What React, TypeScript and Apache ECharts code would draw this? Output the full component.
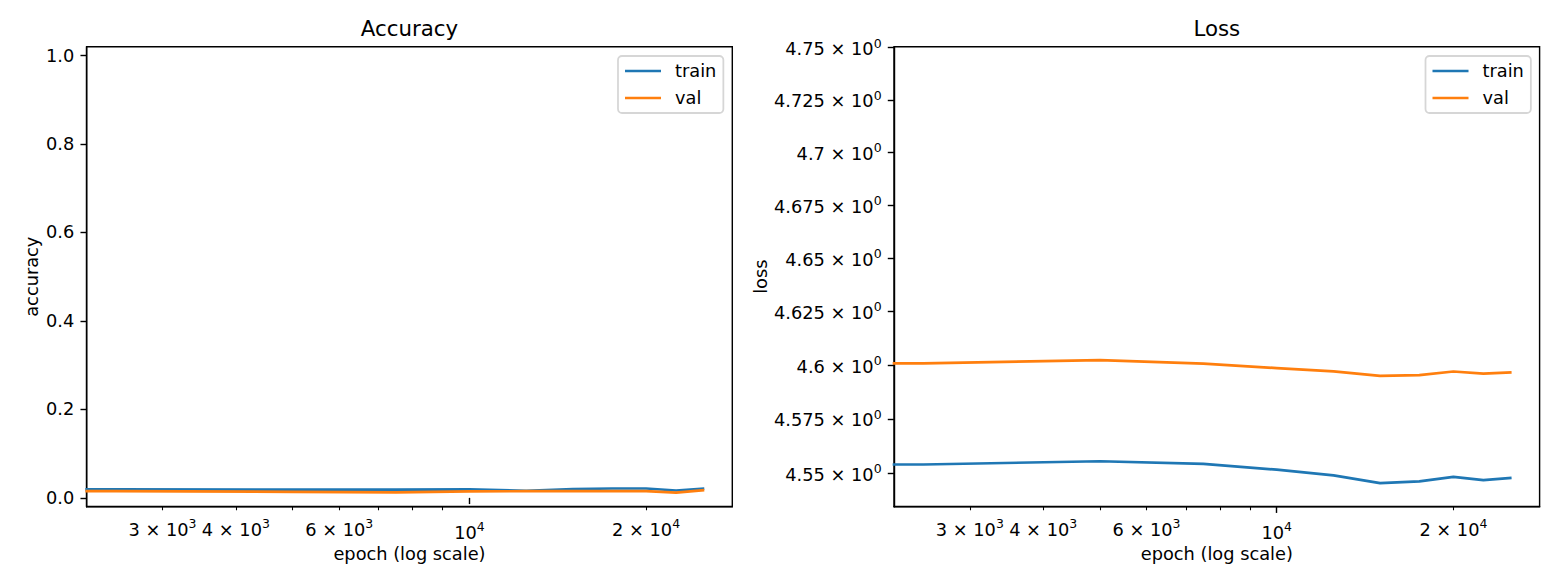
import React, { useRef, useEffect } from 'react'
import * as echarts from 'echarts'

// epochs with a logged value (the epoch-0 point is clipped away by the log axis)
const EPOCHS = [2500, 5000, 7500, 10000, 12500, 15000, 17500, 20000, 22500, 25000]
const TRAIN_ACC = [0.019, 0.0187, 0.0185, 0.019, 0.016, 0.0198, 0.0212, 0.0212, 0.0167, 0.0205]
const VAL_ACC = [0.0152, 0.0137, 0.0124, 0.0145, 0.0152, 0.0152, 0.0153, 0.0153, 0.0117, 0.0172]
const TRAIN_LOSS = [4.554, 4.5555, 4.5543, 4.5516, 4.549, 4.5454, 4.5462, 4.5483, 4.5468, 4.5478]
const VAL_LOSS = [4.6008, 4.6023, 4.6007, 4.5986, 4.5971, 4.595, 4.5953, 4.597, 4.596, 4.5966]

const SERIES_NAMES = ['train', 'val']
const COLORS = ['#1f77b4', '#ff7f0e']

const X_MINOR_TICKS = [3000, 4000, 5000, 6000, 7000, 8000, 9000, 20000]
const X_MAJOR_TICKS = [10000]
const X_MINOR_LABELS = [3000, 4000, 6000, 20000]
const ACC_TICKS = [0, 0.2, 0.4, 0.6, 0.8, 1.0]
const LOSS_TICKS = [4.55, 4.575, 4.6, 4.625, 4.65, 4.675, 4.7, 4.725, 4.75]
const ACC_RANGE = [-0.02, 1.02]
const LOSS_RANGE = [4.5346, 4.7505]

const FONT = 'DejaVu Sans'
const PT = 128 / 72 // px per point
const FS = 10 * PT
const SUP = 7 * PT

// x limits: matplotlib's 5% margin around the data, in log space
const LOG_LO = Math.log10(Math.min(...EPOCHS))
const LOG_HI = Math.log10(Math.max(...EPOCHS))
const X_MIN = LOG_LO - (LOG_HI - LOG_LO) * 0.05
const X_MAX = LOG_HI + (LOG_HI - LOG_LO) * 0.05

const fmtNum = (v: number) => parseFloat(v.toFixed(3)).toString()

// "m × 10^e" the way matplotlib's log formatter writes it
const sciLabel = (v: number) => {
  const exp = Math.floor(Math.log10(v) + 1e-9)
  const m = v / Math.pow(10, exp)
  if (Math.abs(m - 1) < 1e-6) return `{n|10}{s|${exp}}`
  return `{n|${fmtNum(m)} × 10}{s|${exp}}`
}

const rich = {
  n: { fontSize: FS, fontFamily: FONT, color: '#000', verticalAlign: 'bottom' },
  s: { fontSize: SUP, fontFamily: FONT, color: '#000', verticalAlign: 'bottom', padding: [0, 0, 9, 0] }
}

// the clipped epoch-0 segment shows up as a flat run to the left edge
const points = (vals: number[], f: (v: number) => number = v => v) => [
  [X_MIN, f(vals[0])],
  ...EPOCHS.map((e, i) => [Math.log10(e), f(vals[i])])
]

const textStyle = { fontSize: FS, fontFamily: FONT, color: '#000' }
const axisLine = { show: true, onZero: false, lineStyle: { color: '#000', width: 0.8 * PT } }

const xAxes = (grid: number) => [
  {
    type: 'value',
    gridIndex: grid,
    min: X_MIN,
    max: X_MAX,
    position: 'bottom',
    name: 'epoch (log scale)',
    nameLocation: 'middle',
    nameGap: 38.5,
    nameTextStyle: textStyle,
    axisLine,
    axisTick: {
      show: true,
      customValues: X_MINOR_TICKS.map(Math.log10),
      length: 2 * PT,
      lineStyle: { color: '#000', width: 0.6 * PT }
    },
    axisLabel: {
      customValues: X_MINOR_LABELS.map(Math.log10),
      margin: 2 * PT + 3.4 * PT + 1.5,
      formatter: (v: number) => sciLabel(Math.round(Math.pow(10, v))),
      rich
    },
    splitLine: { show: false }
  },
  {
    type: 'value',
    gridIndex: grid,
    min: X_MIN,
    max: X_MAX,
    position: 'bottom',
    axisLine: { show: false },
    axisTick: {
      show: true,
      customValues: X_MAJOR_TICKS.map(Math.log10),
      length: 3.5 * PT,
      lineStyle: { color: '#000', width: 0.8 * PT }
    },
    axisLabel: {
      customValues: X_MAJOR_TICKS.map(Math.log10),
      margin: 7 * PT + 1.5,
      formatter: (v: number) => sciLabel(Math.round(Math.pow(10, v))),
      rich
    },
    splitLine: { show: false }
  }
]

const legend = (left: number) => ({
  left,
  top: 56,
  orient: 'vertical',
  padding: [6, 7, 6, 7],
  itemGap: 9,
  itemWidth: 36,
  itemHeight: 1.5 * PT,
  icon: 'rect',
  selectedMode: false,
  backgroundColor: 'rgba(255,255,255,0.8)',
  borderColor: 'rgba(204,204,204,0.8)',
  borderWidth: PT,
  borderRadius: 4,
  textStyle: { ...textStyle, lineHeight: 18, padding: [0, 0, 0, 9] },
  data: SERIES_NAMES
})

const title = (text: string, left: number) => ({
  text,
  left,
  top: 18,
  padding: 0,
  textAlign: 'center',
  textStyle: { fontSize: 12 * PT, fontFamily: FONT, color: '#000', fontWeight: 'normal' }
})

const lineSeries = (name: string, idx: number, grid: number, data: number[][]) => ({
  name,
  type: 'line',
  xAxisIndex: grid * 2,
  yAxisIndex: grid,
  data,
  symbol: 'none',
  clip: true,
  lineStyle: { color: COLORS[idx], width: 1.5 * PT, join: 'round', cap: 'square' },
  itemStyle: { color: COLORS[idx] }
})

const App: React.FC = () => {
  const chartRef = useRef<HTMLDivElement>(null)

  useEffect(() => {
    if (!chartRef.current) return
    const chart = echarts.init(chartRef.current, null, { renderer: 'svg' })

    const gridW = 645.6
    const grids = [
      { left: 86.7, top: 46.7, width: gridW, height: 460 },
      { left: 894, top: 46.7, width: gridW, height: 460 }
    ].map(g => ({ ...g, show: true, borderColor: '#000', borderWidth: 0.8 * PT, backgroundColor: 'transparent' }))

    const option = {
      animation: false,
      backgroundColor: '#fff',
      title: [title('Accuracy', 86.7 + gridW / 2), title('Loss', 894 + gridW / 2)],
      legend: [legend(618), legend(1425.5)],
      grid: grids,
      xAxis: [...xAxes(0), ...xAxes(1)],
      yAxis: [
        {
          type: 'value',
          gridIndex: 0,
          min: ACC_RANGE[0],
          max: ACC_RANGE[1],
          name: 'accuracy',
          nameLocation: 'middle',
          nameGap: 46,
          nameTextStyle: textStyle,
          axisLine,
          axisTick: { show: true, customValues: ACC_TICKS, length: 3.5 * PT, lineStyle: { color: '#000', width: 0.8 * PT } },
          axisLabel: { customValues: ACC_TICKS, margin: 7 * PT, formatter: (v: number) => v.toFixed(1), ...textStyle },
          splitLine: { show: false }
        },
        {
          type: 'value',
          gridIndex: 1,
          min: Math.log10(LOSS_RANGE[0]),
          max: Math.log10(LOSS_RANGE[1]),
          name: 'loss',
          nameLocation: 'middle',
          nameGap: 123,
          nameTextStyle: textStyle,
          axisLine,
          axisTick: {
            show: true,
            customValues: LOSS_TICKS.map(Math.log10),
            length: 3.5 * PT,
            lineStyle: { color: '#000', width: 0.8 * PT }
          },
          axisLabel: {
            customValues: LOSS_TICKS.map(Math.log10),
            margin: 7 * PT,
            formatter: (v: number) => sciLabel(parseFloat(Math.pow(10, v).toFixed(4))),
            rich
          },
          splitLine: { show: false }
        }
      ],
      series: [
        lineSeries('train', 0, 0, points(TRAIN_ACC)),
        lineSeries('val', 1, 0, points(VAL_ACC)),
        lineSeries('train', 0, 1, points(TRAIN_LOSS, Math.log10)),
        lineSeries('val', 1, 1, points(VAL_LOSS, Math.log10))
      ]
    }

    chart.setOption(option)
    return () => {
      chart.dispose()
    }
  }, [])

  return (
    <div
      ref={chartRef}
      style={{ position: 'fixed', left: 0, top: 0, width: 1560, height: 585, background: '#fff' }}
    />
  )
}

export default App
